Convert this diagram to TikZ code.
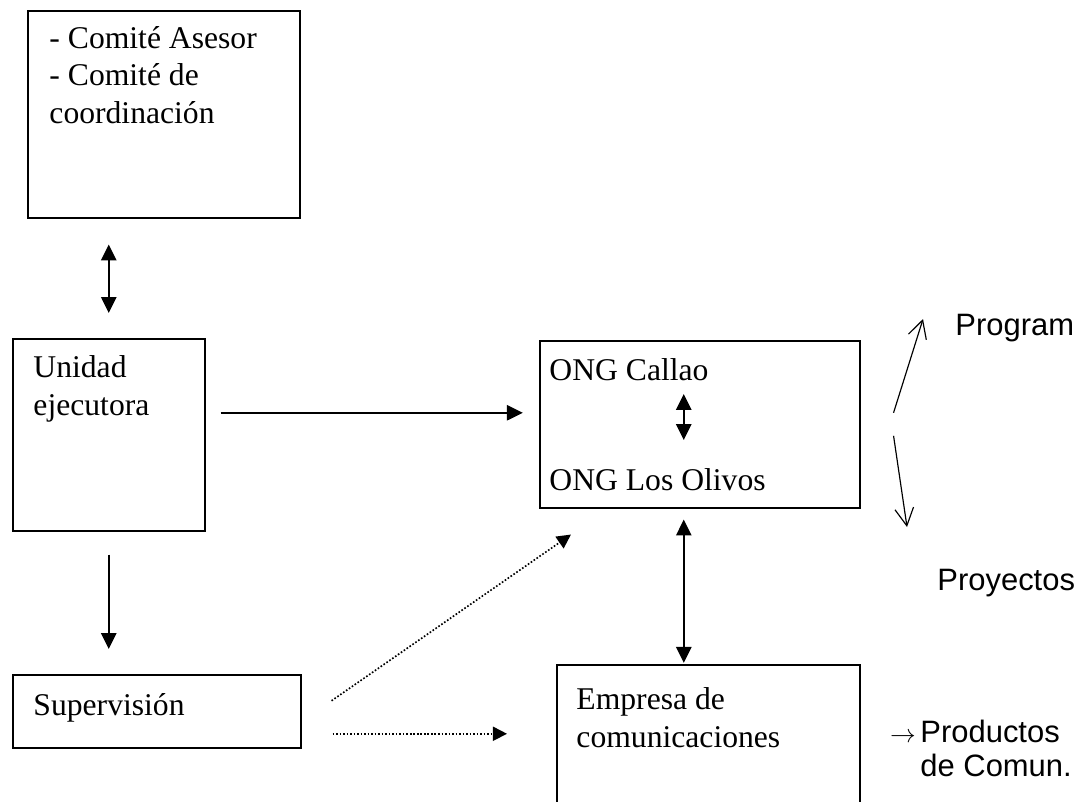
\documentclass[tikz,border=0pt]{standalone}
\usepackage{fontspec}
\setmainfont{Liberation Serif}
\newfontfamily\arialfont{Liberation Sans}
\usetikzlibrary{arrows.meta, calc}
\tikzstyle{caja} = [rectangle, draw=black, line width=0.65pt, anchor=north west, inner sep=0pt]
\tikzstyle{texto} = [anchor=base west, inner sep=0pt, align=left, font=\fontsize{13.5}{15.8}\selectfont]
\tikzstyle{etiqueta} = [anchor=base west, inner sep=0pt, align=left, font=\arialfont\fontsize{13.2}{14.1}\selectfont]
\tikzstyle{flecha} = [line width=0.85pt, -{Triangle[length=6.8pt,width=6.5pt]}]
\tikzstyle{doble} = [line width=0.85pt, {Triangle[length=6.8pt,width=6.5pt]}-{Triangle[length=6.8pt,width=6.5pt]}]
\tikzstyle{punteada} = [line width=0.7pt, dash pattern=on 0.7pt off 0.8pt, -{Triangle[length=6pt,width=6pt]}]
\tikzstyle{abierta} = [line width=0.5pt, -{Straight Barb[length=7.5pt,width=8pt]}]

\begin{document}
\begin{tikzpicture}[x=0.015cm, y=-0.015cm]
        \useasboundingbox (0,0) rectangle (1084,801);
        \clip (0,0) rectangle (1084,801);
        % cajas
        \node (com) [caja, minimum width=4.08cm, minimum height=3.105cm] at (27,10) {};
        \node (uni) [caja, minimum width=2.88cm, minimum height=2.88cm] at (12,338) {};
        \node (sup) [caja, minimum width=4.32cm, minimum height=1.095cm] at (12,674) {};
        \node (ong) [caja, minimum width=4.8cm, minimum height=2.505cm] at (539,340) {};
        \node (emp) [caja, minimum width=4.545cm, minimum height=3cm] at (556,664) {};
        % textos (base = ultima linea)
        \node (comtxt) [texto] at (49,123) {- Comité Asesor\\- Comité de\\coordinación};
        \node (unitxt) [texto] at (33,415) {Unidad\\ejecutora};
        \node (suptxt) [texto] at (33,715) {Supervisión};
        \node (callao) [texto] at (549,380) {ONG Callao};
        \node (olivos) [texto] at (549,490) {ONG Los Olivos};
        \node (emptxt) [texto] at (576,747) {Empresa de\\comunicaciones};
        \node (prog) [etiqueta] at (955,335) {Program};
        \node (proy) [etiqueta] at (937,590) {Proyectos};
        \node (prod) [etiqueta] at (920,776) {\llap{\fontsize{10.5}{10.5}\selectfont$\rightarrow$\hspace{2pt}}Productos\\de Comun.};
        % flechas
        \draw [doble, shorten <=11.1pt, shorten >=10.7pt] (uni.north |- com.south) -- (uni.north);
        \draw [flecha, shorten <=9.9pt, shorten >=10.7pt] (uni.south) -- (uni.south |- sup.north);
        \draw [flecha, shorten <=6.4pt, shorten >=6.9pt] ($(uni.east)+(0,-22)$) -- ($(uni.east -| ong.west)+(0,-22)$);
        \draw [doble] ($(callao.base -| ong.south)+(-16,14)$) -- ($(olivos.base -| ong.south)+(-16,-50)$);
        \draw [doble, shorten <=4.7pt, shorten >=0.5pt] ($(ong.south)+(-16,0)$) -- ($(ong.south |- emp.north)+(-16,0)$);
        \draw [punteada] ($(sup.east)+(30,-10.5)$) -- ($(ong.south west)+(32,26)$);
        \draw [punteada] ($(sup.east)+(31,22.5)$) -- ($(sup.east -| emp.west)+(-49,22.5)$);
        \draw [abierta] ($(ong.east)+(33,-11.5)$) -- ($(prog.base west)+(-32,-16)$);
        \draw [abierta] ($(ong.east)+(33,11.5)$) -- ($(proy.base west)+(-30,-63)$);
\end{tikzpicture}
\end{document}
